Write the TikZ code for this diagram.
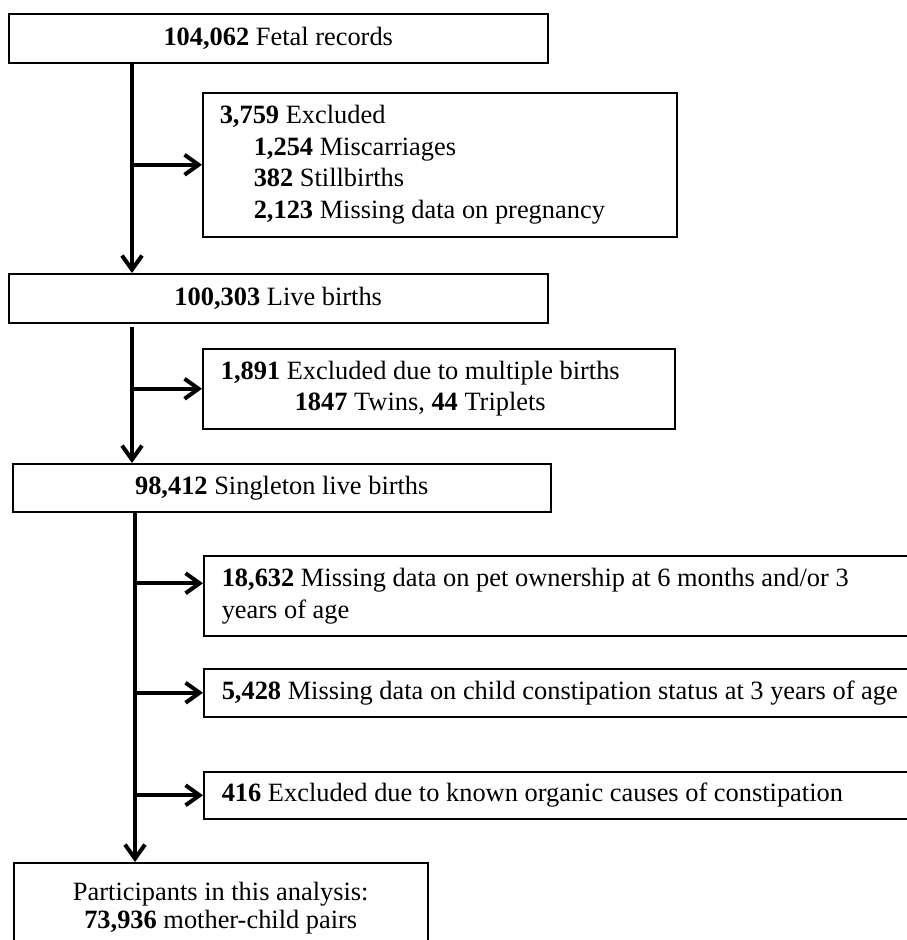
\documentclass[tikz,border=0pt]{standalone}
\usepackage{fontspec}
\setmainfont{Liberation Serif}
\usetikzlibrary{arrows.meta}
\begin{document}
\begin{tikzpicture}[x=1pt,y=-1pt,
  box/.style={draw, line width=1.5pt, inner sep=0pt, anchor=north west, font=\fontsize{26.4}{31.5}\selectfont},
  arr/.style={line width=4pt, -{Straight Barb[length=14pt,width=20pt]}}]
\clip (0,0) rectangle (907,940);
\fill[white] (0,0) rectangle (907,940);
% main boxes
\node[box, minimum width=539pt, minimum height=49pt] (b1) at (8,13) {\textbf{104,062} Fetal records};
\node[box, minimum width=539pt, minimum height=49pt] (b2) at (8,273) {\textbf{100,303} Live births};
\node[box, minimum width=538pt, minimum height=48pt] (b3) at (12,463) {\textbf{98,412} Singleton live births};
\node[box, minimum width=414pt, minimum height=91pt, align=flush center, font=\fontsize{26.4}{27.5}\selectfont] (bt) at (13,862) {Participants in this analysis:\\\textbf{73,936} mother-child pairs};
% exclusion boxes
\node[box, minimum width=472pt, minimum height=144pt, text width=440pt, inner xsep=17pt, align=flush left] (e1) at (202,92)
  {\textbf{3,759} Excluded\\
   \hspace*{34pt}\textbf{1,254} Miscarriages\\
   \hspace*{34pt}\textbf{382} Stillbirths\\
   \hspace*{34pt}\textbf{2,123} Missing data on pregnancy};
\node[box, minimum width=472pt, minimum height=80pt, text width=440pt, inner xsep=16pt, align=flush center] (e2) at (202,348)
  {\textbf{1,891} Excluded due to multiple births\kern37pt\null\\
   \textbf{1847} Twins, \textbf{44} Triplets\kern37pt\null};
\node[box, minimum width=740pt, minimum height=80pt, text width=704pt, inner xsep=17pt, align=flush left, font=\fontsize{26.4}{32}\selectfont] (pa) at (203,555)
  {\textbf{18,632} Missing data on pet ownership at 6 months and/or 3\\years of age};
\node[box, minimum width=740pt, minimum height=48pt, text width=704pt, inner xsep=17pt, align=flush left] (pb) at (203,668)
  {\textbf{5,428} Missing data on child constipation status at 3 years of age};
\node[box, minimum width=740pt, minimum height=47pt, text width=704pt, inner xsep=17pt, align=flush left] (pc) at (203,771)
  {\textbf{416} Excluded due to known organic causes of constipation};
% connectors
\coordinate (v1) at (132,0);
\coordinate (v2) at (132,327);
\coordinate (v3) at (135,0);
\coordinate (pain) at ([yshift=12.5pt]pa.west);
\draw[arr] (v1 |- b1.south) -- (v1 |- b2.north);
\draw[arr] (v1 |- e1.west) -- (e1.west);
\draw[arr] (v2) -- (v2 |- b3.north);
\draw[arr] (v2 |- e2.west) -- (e2.west);
\draw[arr] (v3 |- b3.south) -- (v3 |- bt.north);
\draw[arr] (v3 |- pain) -- (pain);
\draw[arr] (v3 |- pb.west) -- (pb.west);
\draw[arr] (v3 |- pc.west) -- (pc.west);
\end{tikzpicture}
\end{document}
